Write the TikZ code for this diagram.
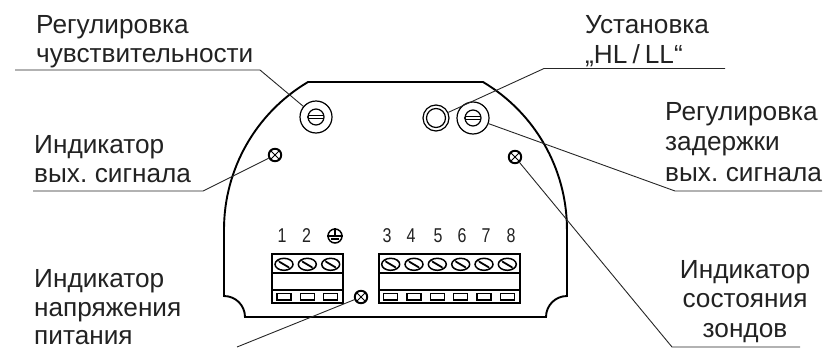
\documentclass[tikz,border=0pt]{standalone}
\usepackage{fontspec}
\setmainfont[WordSpace=0.7]{Liberation Sans}
\definecolor{inktext}{HTML}{222222}
\tikzset{
  lbl/.style={font=\fontsize{26.2}{30}\selectfont,text=inktext,inner sep=0pt,align=left,anchor=base west},
  lblc/.style={lbl,align=center,anchor=base},
  num/.style={font=\fontsize{20}{20}\selectfont,text=inktext,inner sep=0pt,xscale=.8},
  leader/.style={line width=.9pt,black!85},
  hull/.style={line width=1.9pt},
  ledind/.style={circle,draw,line width=1.9pt,inner sep=0pt,minimum size=12.5pt},
  knob/.style={circle,draw,line width=1.2pt,inner sep=0pt,minimum size=32pt},
  ring/.style={circle,draw,line width=1.2pt,inner sep=0pt,minimum size=26pt}
}
\begin{document}
\begin{tikzpicture}[x=1pt,y=-1pt]
\useasboundingbox (0,0) rectangle (826,348);
% housing
\draw[hull](224,229.5) arc (180:239.3:171.5)--(483,82) arc (300.7:360:171.5)--(567,296)
  arc (270:180:21)--(245,317) arc (0:-90:21)--cycle;
% knobs and lamps
\node[knob](knobA) at (316,117){};
\node[knob](knobB) at (473,118){};
\node[ring](ringHL) at (436,118){};
\node[ledind](ledOut) at (275,155){};
\node[ledind](ledProbe) at (515,157){};
\node[ledind](ledPower) at (361,297){};
\draw[line width=1.2pt] (ringHL) circle (9.5);
\foreach \k in {knobA,knobB}{
  \draw[line width=1.2pt] (\k) circle (8);
  \draw[line width=1pt] ([shift={(-7,-1.5)}]\k.center)--++(14,0) ([shift={(-7,1.5)}]\k.center)--++(14,0);
  \draw[line width=1pt] ([shift={(-7,-1.5)}]\k.center) arc (270:90:1.5);
}
\foreach \k in {ledOut,ledProbe,ledPower}{
  \draw[line width=.9pt] (\k.45)--(\k.225) (\k.135)--(\k.315);
}
% terminal blocks
\draw[line width=1.3pt](272,254) rectangle (343,303);
\draw[line width=1.3pt](379,254) rectangle (520,303);
\draw[line width=1.6pt](272,273)--(343,273) (379,273)--(520,273);
\draw[line width=1.2pt](272,290)--(343,290) (379,290)--(520,290);
\foreach \x in {284,307.3,330.7,390.7,414,437.3,460.7,484,507.3}{
  \draw[line width=1.5pt](\x,264.3) ellipse (9 and 6);
  \draw[line width=1pt](\x-6,260.5)--++(11,6.5) (\x-5,262)--++(11,6.5);
  \draw[line width=1.1pt](\x-7,293.5) rectangle (\x+7,300);
}
% numbers
\foreach \n/\x in {1/282,2/306.5,3/387,4/411,5/438,6/462,7/486,8/511}{
  \node[num](n\n) at (\x,236){\n};
}
\node[circle,draw,line width=1.5pt,inner sep=0pt,minimum size=14pt](earth) at (335,236){};
\draw[line width=1.2pt](earth.north)--(earth.center) (earth.west)--(earth.east);
\draw[line width=1.1pt]([shift={(-4,3)}]earth.center)--++(8,0);
% leaders
\coordinate (a1) at (15,70);
\coordinate (a2) at (260,70);
\draw[leader](a1)--(a2)--(knobA);
\coordinate (b1) at (33,191);
\coordinate (b2) at (203,191);
\draw[leader](b1)--(b2)--(ledOut);
\coordinate (c1) at (725,68.5);
\coordinate (c2) at (544,68.5);
\draw[leader](c1)--(c2)--(ringHL);
\coordinate (d1) at (822,191);
\coordinate (d2) at (675,191);
\draw[leader](d1)--(d2)--(knobB);
\coordinate (e1) at (800,347);
\coordinate (e2) at (672,347);
\draw[leader](e1)--(e2)--(ledProbe);
\coordinate (f1) at (237,347);
\draw[leader](f1)--(ledPower);
% labels
\node[lbl](t1) at (36,33){Регулировка};
\node[lbl](t2) at (36,62){чувствительности};
\node[lbl](t3) at (34,153){Индикатор};
\node[lbl](t4) at (34,182){вых. сигнала};
\node[lbl](t5) at (585,33){Установка};
\node[lbl](t6) at (585,63){„HL / LL“};
\node[lbl](t7) at (665,120){Регулировка};
\node[lbl](t8) at (665,150){задержки};
\node[lbl](t9) at (665,181){вых. сигнала};
\node[lbl](t10) at (34,287){Индикатор};
\node[lbl](t11) at (34,316){напряжения};
\node[lbl](t12) at (34,344){питания};
\node[lblc](t13) at (745,278){Индикатор};
\node[lblc](t14) at (745,307){состояния};
\node[lblc](t15) at (745,337){зондов};
\end{tikzpicture}
\end{document}
